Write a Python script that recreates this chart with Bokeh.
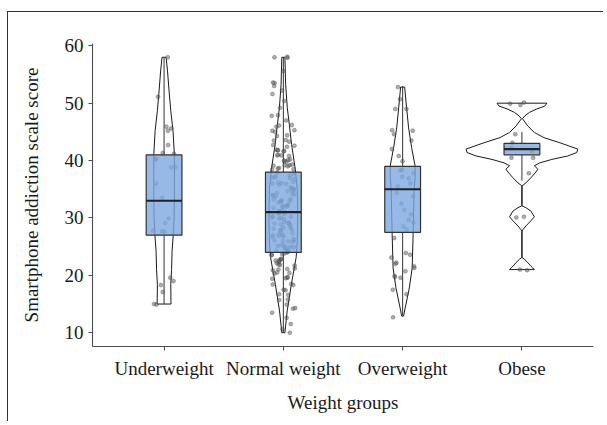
from bokeh.plotting import figure
from bokeh.models import Range1d, FixedTicker, ColumnDataSource
from bokeh.transform import jitter, dodge
from bokeh.embed import file_html
from bokeh.resources import INLINE

# ---------------- data ----------------
groups = ["Underweight", "Normal weight", "Overweight", "Obese"]
positions = [1, 2, 3, 4]

q1 = [27, 24, 27.5, 41]
median = [33, 31, 35, 42]
q3 = [41, 38, 39, 43]
whisker_low = [15, 10, 13, 36.5]
whisker_high = [58, 58, 53, 45]

# violin outlines: score levels and half-width (in category units)
underweight_violin_y = [15.0, 18.4, 21.0, 24.2, 26.5, 30.0, 35.0, 41.1, 45.2, 48.7, 52.1, 55.6, 58.0]
underweight_violin_w = [0.058, 0.056, 0.063, 0.067, 0.075, 0.084, 0.086, 0.086, 0.075, 0.056, 0.042, 0.029, 0.017]

normal_violin_y = [10.0, 13.8, 18.4, 23.1, 26.0, 30.0, 35.0, 38.5, 42.8, 46.3, 49.2, 53.3, 58.0]
normal_violin_w = [0.013, 0.032, 0.067, 0.107, 0.117, 0.121, 0.117, 0.100, 0.069, 0.050, 0.033, 0.019, 0.013]

overweight_violin_y = [12.9, 14.3, 17.8, 21.3, 27.1, 31.0, 35.0, 37.0, 39.1, 42.3, 45.7, 49.2, 52.8]
overweight_violin_w = [0.008, 0.021, 0.056, 0.080, 0.088, 0.092, 0.096, 0.104, 0.104, 0.075, 0.050, 0.033, 0.017]

obese_violin_y = [21.0, 21.3, 21.6, 22.2, 22.8, 23.1, 27.7, 28.0, 28.6, 29.5, 30.2, 31.2, 31.8, 32.1,
                  35.6, 36.1, 37.0, 38.0, 38.5, 39.1, 39.6, 40.2, 40.8, 41.4, 42.0, 42.5, 43.1, 44.0,
                  44.9, 46.0, 47.3, 47.8, 48.4, 49.0, 49.5, 50.0]
obese_violin_w = [0.104, 0.090, 0.075, 0.050, 0.021, 0.001, 0.001, 0.010, 0.033, 0.075, 0.104, 0.075, 0.033, 0.001,
                  0.001, 0.033, 0.075, 0.117, 0.134, 0.104, 0.150, 0.251, 0.384, 0.460, 0.468, 0.401, 0.318, 0.184,
                  0.104, 0.050, 0.004, 0.025, 0.063, 0.125, 0.192, 0.209]

underweight_scores = [58.0, 51.1, 45.9, 45.6, 45.2, 42.7, 41.3, 41.2, 40.3, 40.2, 38.9, 38.8, 36.0, 33.5,
                      29.9, 29.1, 27.8, 27.7, 27.6, 19.6, 19.0, 18.3, 17.1, 15.0, 14.9]

normal_scores = [
    58.0, 58.1, 57.9, 55.6, 53.6, 53.5, 53.0, 52.2, 51.6, 50.4, 49.2, 47.9, 47.8, 47.0, 46.2, 46.1, 45.9,
    45.3, 45.2, 45.0, 44.4, 44.3, 43.6, 43.5, 43.3, 42.7, 42.6, 42.4, 41.9, 41.8, 41.7, 41.8, 41.6, 40.9,
    41.0, 40.8, 40.9, 40.1, 40.0, 39.9, 40.2, 39.8, 39.2, 39.3, 39.1, 39.2, 39.0, 38.6, 38.7, 38.5, 38.4,
    37.9, 37.7, 37.4, 37.2, 37.0, 36.9, 37.1, 36.8, 36.2, 36.0, 35.8, 36.1, 35.9, 36.3, 35.2, 35.0, 34.8,
    35.1, 34.9, 35.3, 34.7, 34.2, 34.0, 33.8, 34.1, 33.9, 34.3, 33.2, 33.0, 32.9, 33.1, 32.8, 33.3, 32.7,
    32.1, 32.0, 31.8, 32.2, 31.9, 32.3, 31.2, 31.0, 30.8, 31.1, 30.9, 31.3, 30.7, 30.2, 30.0, 29.8, 30.1,
    29.9, 30.3, 29.2, 29.0, 28.8, 29.1, 28.9, 29.3, 28.7, 28.2, 28.0, 27.8, 28.1, 27.9, 28.3, 27.2, 27.0,
    26.8, 27.1, 26.9, 27.3, 26.2, 26.0, 25.8, 26.1, 25.9, 26.3, 26.7, 25.2, 25.0, 24.8, 25.1, 24.9, 25.3,
    24.7, 24.2, 24.0, 24.3, 24.1, 24.4,
    23.6, 23.7, 23.5, 23.8, 22.7, 22.6, 22.9, 22.8, 22.5, 22.3, 21.8, 21.9, 21.7, 22.1, 21.0, 21.1, 20.9,
    21.2, 20.4, 20.3, 20.5, 19.5, 19.6, 19.4, 19.7, 18.4, 18.5, 18.3, 17.5, 17.4, 16.6, 16.7, 15.8, 15.7,
    14.9, 14.3, 14.2, 13.5, 12.6, 11.5, 10.6, 10.0]

overweight_scores = [52.8, 50.7, 49.0, 49.0, 45.3, 45.2, 44.6, 43.5, 42.0, 40.8, 39.9, 38.3, 38.4, 37.8,
                     37.2, 36.9, 36.0, 35.5, 34.4, 33.8, 32.5, 31.4, 30.6, 29.7, 29.2, 28.5, 28.0, 26.5,
                     23.9, 23.6, 23.1, 22.2, 22.0, 21.6, 21.3, 20.7, 19.9, 19.7, 19.6, 17.5, 16.7, 12.7]

obese_scores = [50.1, 49.9, 49.7, 44.6, 43.1, 42.2, 41.6, 40.5, 40.5, 37.8, 30.2, 30.1, 21.0, 20.9]

x_tick_labels = {1: "Underweight", 2: "Normal weight", 3: "Overweight", 4: "Obese"}
y_ticks = [10, 20, 30, 40, 50, 60]

# ---------------- figure ----------------
FONT = "Liberation Serif"
TXT = "#1a1a1a"
AX = "#4d4d4d"

p = figure(width=596, height=410, output_backend="svg", toolbar_location=None,
           x_range=Range1d(0.4, 4.6), y_range=Range1d(7.6, 60.4),
           min_border_left=84, min_border_right=11, min_border_top=31, min_border_bottom=76)
p.styles = {"margin-top": "11px", "margin-left": "7px",
            "border-top": "1px solid #333", "border-left": "1px solid #333"}
p.outline_line_color = None
p.xgrid.visible = False
p.ygrid.visible = False
p.background_fill_color = "white"
p.border_fill_color = "white"

# violins
violins = [(underweight_violin_y, underweight_violin_w),
           (normal_violin_y, normal_violin_w),
           (overweight_violin_y, overweight_violin_w),
           (obese_violin_y, obese_violin_w)]
vxs, vys = [], []
for pos, (vy, vw) in zip(positions, violins):
    left = [pos - w for w in vw]
    right = [pos + w for w in reversed(vw)]
    vxs.append(left + right)
    vys.append(list(vy) + list(reversed(vy)))
p.patches(xs=vxs, ys=vys, fill_color="white", fill_alpha=0.0,
          line_color="#1a1a1a", line_width=1.0)

# whiskers
box_src = ColumnDataSource(dict(x=positions, q1=q1, med=median, q3=q3, lo=whisker_low, hi=whisker_high))
p.segment(x0="x", y0="q3", x1="x", y1="hi", source=box_src, line_color="#333333", line_width=1.0)
p.segment(x0="x", y0="lo", x1="x", y1="q1", source=box_src, line_color="#333333", line_width=1.0)

# jittered points
all_scores = [underweight_scores, normal_scores, overweight_scores, obese_scores]
px, py = [], []
for pos, sc in zip(positions, all_scores):
    px += [pos] * len(sc)
    py += sc
pt_src = ColumnDataSource(dict(x=px, y=py))
p.scatter(x=jitter("x", width=0.2), y="y", source=pt_src, size=4.0,
          fill_color="#5a5a5a", fill_alpha=0.5, line_color="#444444", line_alpha=0.5, line_width=0.6)

# boxes
p.vbar(x="x", width=0.3, bottom="q1", top="q3", source=box_src,
       fill_color="#7da7df", fill_alpha=0.8, line_color="#333333", line_width=1.2)
p.segment(x0=dodge("x", -0.15), y0="med", x1=dodge("x", 0.15), y1="med", source=box_src,
          line_color="#222222", line_width=2.2)

# axes
p.xaxis.ticker = FixedTicker(ticks=positions)
p.xaxis.major_label_overrides = x_tick_labels
p.yaxis.ticker = FixedTicker(ticks=y_ticks)
p.xaxis.axis_label = "Weight groups"
p.yaxis.axis_label = "Smartphone addiction scale score"
for ax in (p.xaxis[0], p.yaxis[0]):
    ax.axis_line_color = AX
    ax.axis_line_width = 1.1
    ax.major_tick_line_color = AX
    ax.major_tick_line_width = 1.1
    ax.major_tick_out = 4
    ax.major_tick_in = 0
    ax.minor_tick_out = 0
    ax.minor_tick_in = 0
    ax.major_label_text_font = FONT
    ax.major_label_text_font_size = "19px"
    ax.major_label_text_color = TXT
    ax.axis_label_text_font = FONT
    ax.axis_label_text_font_size = "19px"
    ax.axis_label_text_font_style = "normal"
    ax.axis_label_text_color = TXT
p.xaxis.major_label_standoff = 7
p.yaxis.major_label_standoff = 5
p.xaxis.axis_label_standoff = 10
p.yaxis.axis_label_standoff = 20

open("out.html", "w").write(file_html(p, INLINE))
